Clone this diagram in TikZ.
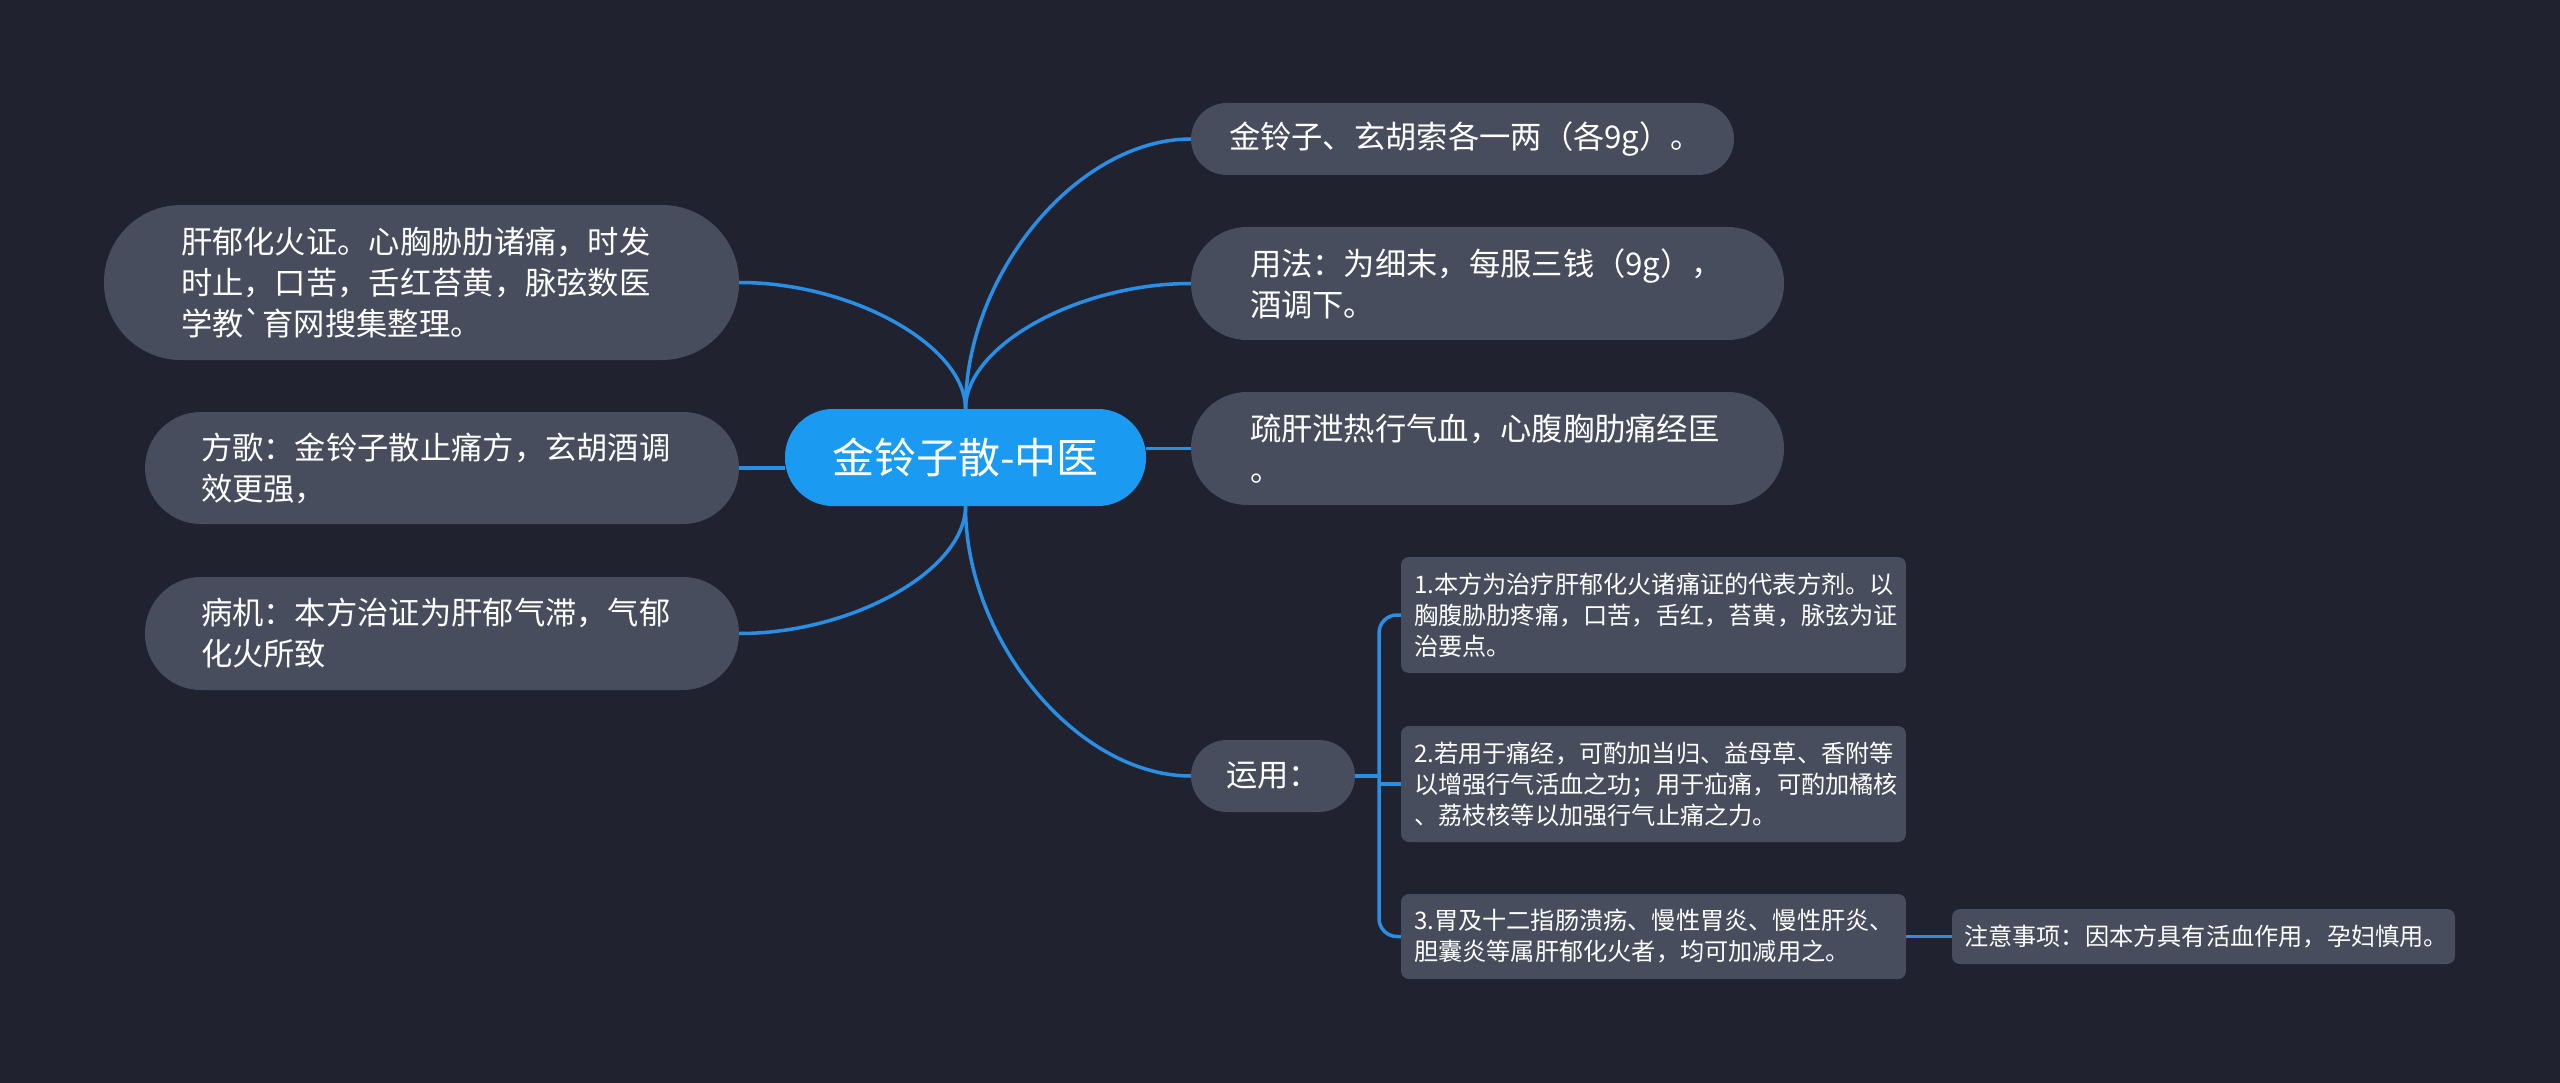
\documentclass[tikz,border=0pt]{standalone}
\usepackage{fontspec}
\setmainfont{Noto Sans CJK SC}
\definecolor{bgnavy}{RGB}{32,35,47}
\definecolor{boxgray}{RGB}{71,77,92}
\definecolor{rootblue}{RGB}{26,154,240}
\definecolor{linkblue}{RGB}{42,142,228}
\begin{document}
\begin{tikzpicture}[x=1pt,y=-1pt,
		topic/.style={fill=boxgray,text=white,inner sep=0pt,align=left,font=\fontsize{31.3}{41}\selectfont},
		sub/.style={fill=boxgray,text=white,inner sep=0pt,align=left,rounded corners=8pt,minimum width=505pt,text width=479pt,font=\fontsize{24.2}{31}\selectfont},
		link/.style={draw=linkblue,line width=3.5pt}]
		\fill[bgnavy] (0,0) rectangle (2560,1083);
		\useasboundingbox (0,0) rectangle (2560,1083);

		\node (root) [fill=rootblue,text=white,inner sep=0pt,rounded corners=48pt,minimum width=361pt,minimum height=97pt,font=\fontsize{42}{50}\selectfont] at (965.5,457.5) {金铃子散-中医};

		\node (gan) [topic,rounded corners=77pt,minimum width=635pt,minimum height=155pt,text width=481pt] at (421.5,282.5) {肝郁化火证。心胸胁肋诸痛，时发\\时止，口苦，舌红苔黄，脉弦数医\\学教\textasciigrave 育网搜集整理。};
		\node (fangge) [topic,rounded corners=56pt,minimum width=594pt,minimum height=112pt,text width=482pt] at (442,468) {方歌：金铃子散止痛方，玄胡酒调\\效更强，};
		\node (bingji) [topic,rounded corners=56pt,minimum width=594pt,minimum height=113pt,text width=482pt] at (442,633.5) {病机：本方治证为肝郁气滞，气郁\\化火所致};

		\node (zucheng) [topic,rounded corners=36pt,minimum width=543pt,minimum height=72pt,text width=467pt] at (1462.5,139) {金铃子、玄胡索各一两（各9g）。};
		\node (yongfa) [topic,rounded corners=56pt,minimum width=593pt,minimum height=113pt,text width=475pt] at (1487.5,283.5) {用法：为细末，每服三钱（9g），\\酒调下。};
		\node (gongyong) [topic,rounded corners=56pt,minimum width=593pt,minimum height=113pt,text width=475pt] at (1487.5,448.5) {疏肝泄热行气血，心腹胸肋痛经匡\\。};
		\node (yunyong) [topic,align=center,rounded corners=36pt,minimum width=164pt,minimum height=72pt] at (1273,776) {运用：};

		\node (yong1) [sub,minimum height=116pt] at (1653.5,615) {1.本方为治疗肝郁化火诸痛证的代表方剂。以\\胸腹胁肋疼痛，口苦，舌红，苔黄，脉弦为证\\治要点。};
		\node (yong2) [sub,minimum height=116pt] at (1653.5,784) {2.若用于痛经，可酌加当归、益母草、香附等\\以增强行气活血之功；用于疝痛，可酌加橘核\\、荔枝核等以加强行气止痛之力。};
		\node (yong3) [sub,minimum height=85pt] at (1653.5,936.5) {3.胃及十二指肠溃疡、慢性胃炎、慢性肝炎、\\胆囊炎等属肝郁化火者，均可加减用之。};
		\node (zhuyi) [sub,minimum width=503pt,minimum height=55pt] at (2203.5,936.5) {注意事项：因本方具有活血作用，孕妇慎用。};
		\coordinate (fork) at (1379,776);

		\draw [link] (root.north) .. controls +(0,-63) and +(113,0) .. (gan.east);
		\draw [link] (root.west |- fangge.east) -- (fangge.east);
		\draw [link] (root.south) .. controls +(0,64) and +(113,0) .. (bingji.east);
		\draw [link] (root.north) .. controls +(0,-135) and +(-113,0) .. (zucheng.west);
		\draw [link] (root.north) .. controls +(0,-63) and +(-113,0) .. (yongfa.west);
		\draw [link] (root.east |- gongyong.west) -- (gongyong.west);
		\draw [link] (root.south) .. controls +(0,135) and +(-113,0) .. (yunyong.west);
		\draw [link] (yunyong.east) -- (fork);
		\draw [link,rounded corners=18pt] (yong1.west) -| (fork) |- (yong3.west);
		\draw [link] (yong2.west -| fork) -- (yong2.west);
		\draw [link] (yong3.east) -- (zhuyi.west);
	\end{tikzpicture}
\end{document}
